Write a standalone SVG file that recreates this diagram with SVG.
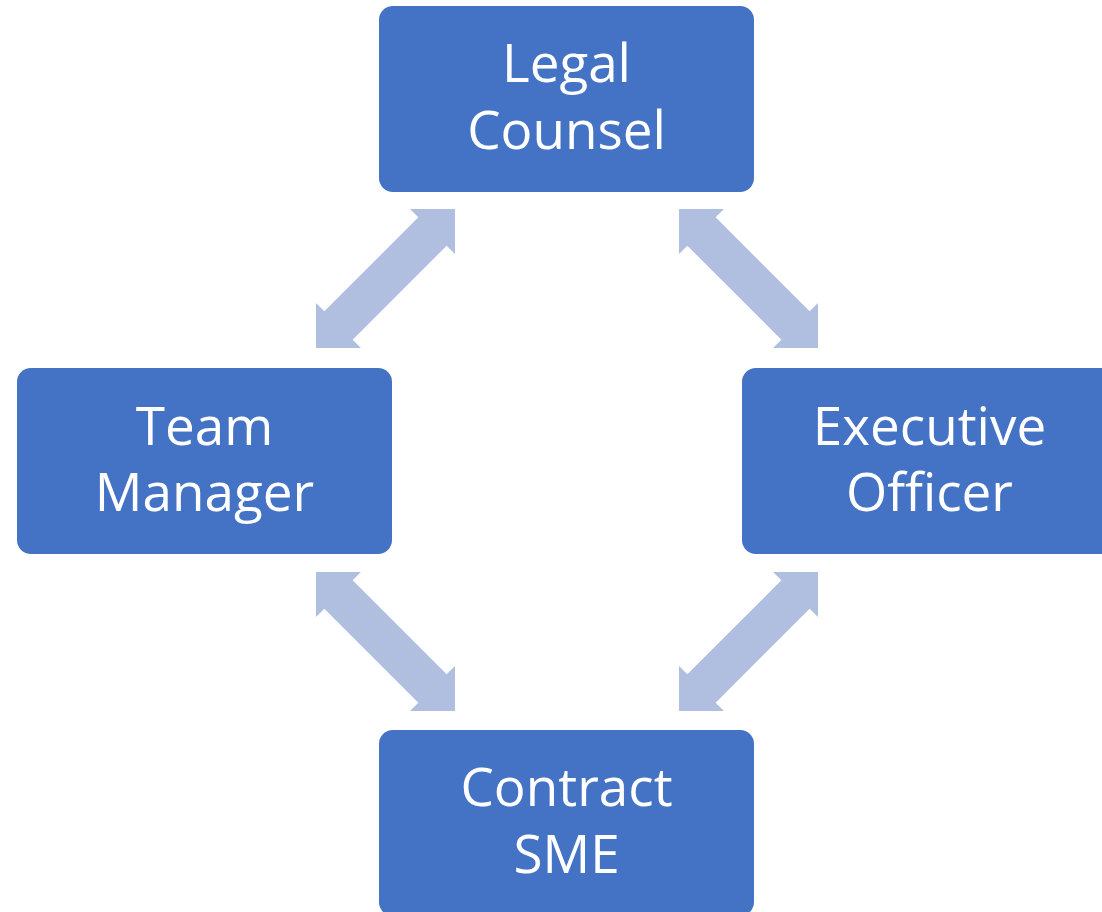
<svg xmlns="http://www.w3.org/2000/svg" xmlns:xlink="http://www.w3.org/1999/xlink" width="1102" height="912" viewBox="0 0 1102 912">
  <style>
    .box { fill: #4472C4; }
    .lbl { fill: #FFFFFF; font-family: "Open Sans", "Liberation Sans", sans-serif; font-size: 53px; text-anchor: middle; }
    .arr { fill: #B0BEE0; }
  </style>
  <defs>
    <path id="dbl" d="M139,0 L139,45 L130.65,36.65 L36.65,130.65 L45,139 L0,139 L0,94 L8.35,102.35 L102.35,8.35 L94,0 Z"/>
  </defs>
  <rect width="1102" height="912" fill="#FFFFFF"/>
  <g id="connectors" class="arr">
    <use xlink:href="#dbl" transform="translate(316,209)"/>
    <use xlink:href="#dbl" transform="translate(818,209) scale(-1,1)"/>
    <use xlink:href="#dbl" transform="translate(316,711) scale(1,-1)"/>
    <use xlink:href="#dbl" transform="translate(679,572)"/>
  </g>
  <g id="legal-counsel">
    <rect class="box" x="379" y="6" width="375" height="186" rx="14"/>
    <text class="lbl" x="566.5" y="82">Legal</text>
    <text class="lbl" x="566.5" y="149">Counsel</text>
  </g>
  <g id="team-manager">
    <rect class="box" x="17" y="368" width="375" height="186" rx="14"/>
    <text class="lbl" x="204.5" y="445">Team</text>
    <text class="lbl" x="204.5" y="511">Manager</text>
  </g>
  <g id="executive-officer">
    <rect class="box" x="742" y="368" width="375" height="186" rx="14"/>
    <text class="lbl" x="929.5" y="445">Executive</text>
    <text class="lbl" x="929.5" y="511">Officer</text>
  </g>
  <g id="contract-sme">
    <rect class="box" x="379" y="730" width="375" height="186" rx="14"/>
    <text class="lbl" x="566.5" y="806">Contract</text>
    <text class="lbl" x="566.5" y="873">SME</text>
  </g>
</svg>
